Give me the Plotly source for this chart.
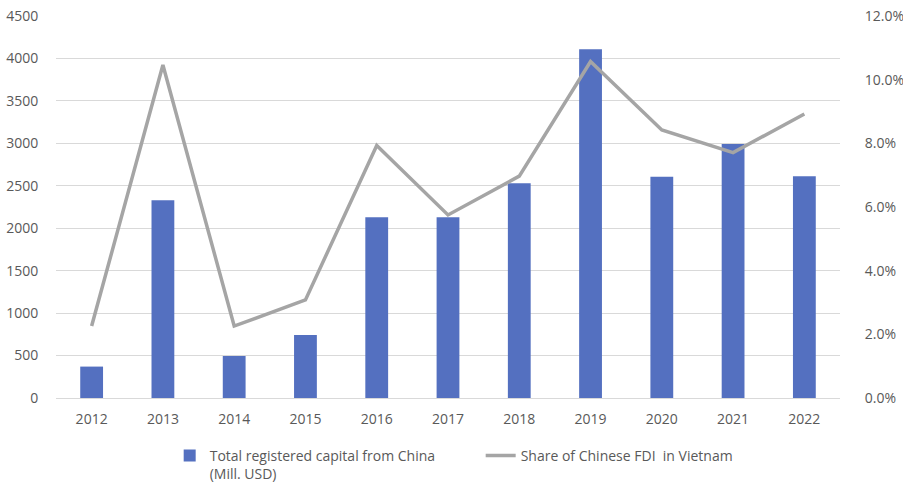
import plotly.graph_objects as go

years = ["2012", "2013", "2014", "2015", "2016", "2017", "2018", "2019", "2020", "2021", "2022"]
capital = [370, 2330, 495, 742, 2128, 2128, 2529, 4108, 2607, 2992, 2611]
share = [2.26, 10.46, 2.26, 3.08, 7.93, 5.75, 6.97, 10.57, 8.42, 7.71, 8.92]
share_frac = [v / 100 for v in share]

font_family = "Open Sans, Liberation Sans, sans-serif"
tick_color = "#595959"

fig = go.Figure()
fig.add_trace(go.Bar(
    x=years, y=capital,
    name="Total registered capital from China<br>(Mill. USD)",
    marker=dict(color="#5470C0", line=dict(width=0)),
    width=0.32,
    yaxis="y",
))
fig.add_trace(go.Scatter(
    x=years, y=share_frac,
    name="Share of Chinese FDI  in Vietnam",
    mode="lines",
    line=dict(color="#A5A5A5", width=3.5),
    yaxis="y2",
))

fig.update_layout(
    width=903, height=484,
    margin=dict(l=56, r=63, t=16, b=86, autoexpand=False),
    paper_bgcolor="white", plot_bgcolor="white",
    font=dict(family=font_family, size=14, color=tick_color),
    xaxis=dict(
        showgrid=False, showline=False, zeroline=False,
        ticks="outside", ticklen=8, tickcolor="rgba(0,0,0,0)",
        tickfont=dict(size=14, color=tick_color),
    ),
    yaxis=dict(
        range=[0, 4500], dtick=500, tick0=0,
        showgrid=True, gridcolor="#D9D9D9", gridwidth=1,
        zeroline=True, zerolinecolor="#D9D9D9", zerolinewidth=1,
        showline=False,
        ticks="outside", ticklen=14, tickcolor="rgba(0,0,0,0)",
        tickfont=dict(size=14, color=tick_color),
    ),
    yaxis2=dict(
        range=[0, 0.12], dtick=0.02, tick0=0,
        overlaying="y", side="right",
        showgrid=False, zeroline=False, showline=False,
        tickformat=".1%",
        ticks="outside", ticklen=21, tickcolor="rgba(0,0,0,0)",
        tickfont=dict(size=14, color=tick_color),
    ),
    legend=dict(
        orientation="h",
        x=0.145, xanchor="left",
        y=-0.11, yanchor="top",
        font=dict(size=14, color=tick_color),
        traceorder="normal",
        itemwidth=30,
        entrywidth=266,
        valign="top",
    ),
)

fig.write_html("out.html")
